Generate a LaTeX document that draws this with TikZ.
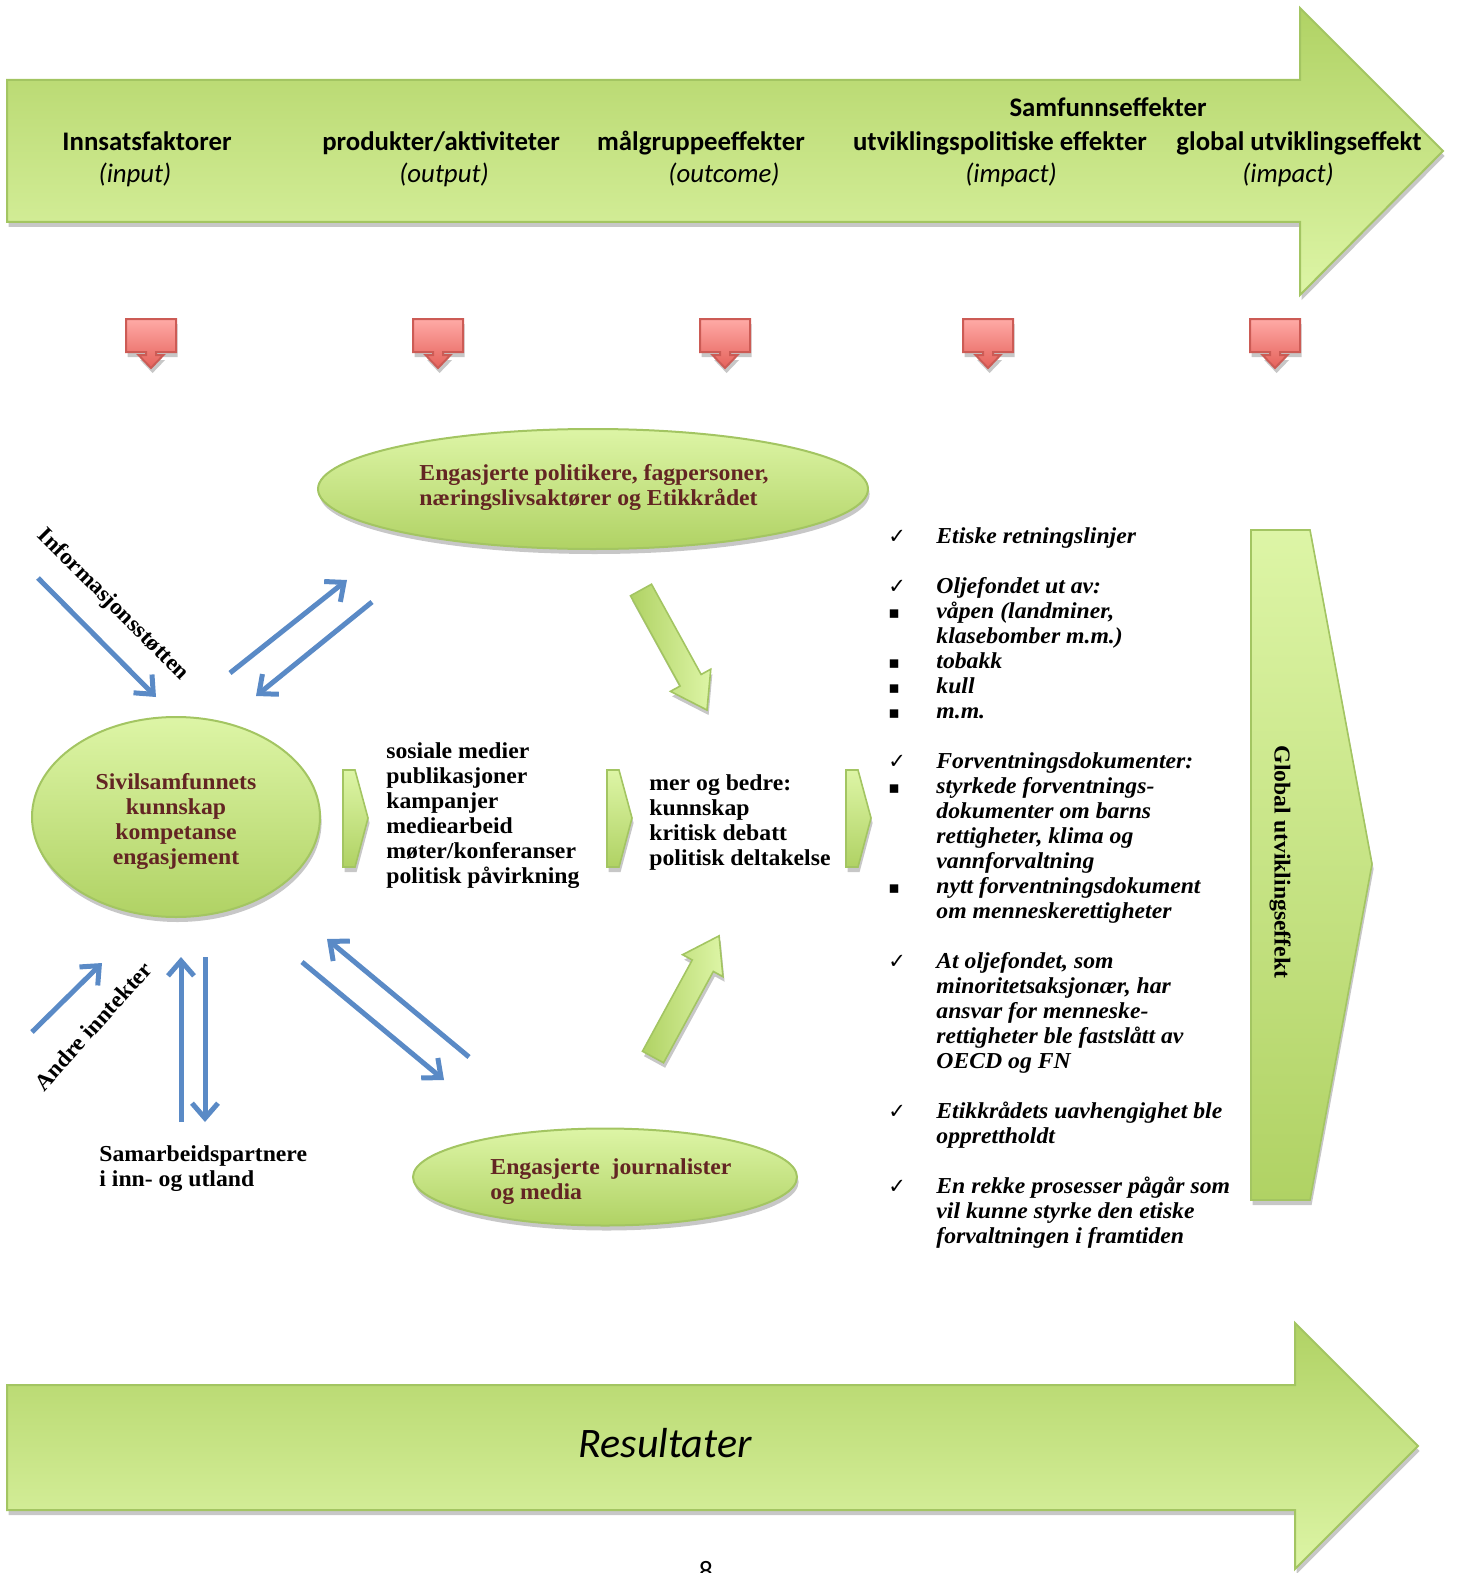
\documentclass[tikz,border=0pt]{standalone}
\usepackage{fontspec}
\setmainfont{Liberation Serif}[FakeStretch=1.04]
\newfontfamily\calfont{Carlito}
\newfontfamily\symfont{DejaVu Sans}
\usetikzlibrary{shapes.geometric,arrows.meta,shadows}
\definecolor{gdark}{HTML}{B0D264}
\definecolor{glight}{HTML}{DDF5A6}
\definecolor{gline}{HTML}{A3C562}
\definecolor{redtxt}{HTML}{632523}
\definecolor{blu}{HTML}{5A8AC6}
\definecolor{rtop}{HTML}{FFAAA6}
\definecolor{rbot}{HTML}{E5625B}
\definecolor{rline}{HTML}{CC5B55}
\newcommand{\bodyfs}{\fontsize{11.4}{12.5}\selectfont}
\newcommand{\chk}{{\normalfont\symfont\fontsize{10.5}{12.5}\selectfont ✓}}
\newcommand{\bul}{{\normalfont\symfont\fontsize{8.5}{12.5}\selectfont ▪}}
\tikzset{
  shad/.style={drop shadow={shadow xshift=0.8pt, shadow yshift=-2.5pt, opacity=0.22, fill=black}},
  bigarrow/.style={draw=gline, line width=1pt, top color=gdark, bottom color=glight, shad},
  ell/.style={ellipse, draw=gline, line width=1pt, top color=glight, bottom color=gdark, shad, inner sep=0pt},
  chev/.style={draw=gline, line width=0.8pt, top color=glight, bottom color=gdark, shad},
  diag/.style={draw=gline, line width=0.8pt, left color=gdark, right color=glight, shad},
  bluarr/.style={draw=blu, line width=2.5pt, -{Straight Barb[length=7.5pt,width=13pt]}},
  redm/.style={draw=rline, line width=1pt, top color=rtop, bottom color=rbot, shad},
  hdr/.style={font=\calfont\bfseries\fontsize{13.4}{15}\selectfont, anchor=base, inner sep=0pt},
  hdri/.style={font=\calfont\itshape\fontsize{13.4}{15}\selectfont, anchor=base, inner sep=0pt},
  body/.style={font=\bodyfs\bfseries, inner sep=0pt},
  redlabel/.style={font=\bodyfs\bfseries, text=redtxt, inner sep=0pt},
  redmarker/.pic={
    \draw[redm] (-25,0) -- (25,0) -- (25,33) -- (5,33) -- (5,36) -- (12.5,36) -- (0,49)
      -- (-12.5,36) -- (-5,36) -- (-5,33) -- (-25,33) -- cycle;
  }
}
\begin{document}
\begin{tikzpicture}[x=0.5pt,y=-0.5pt]
\useasboundingbox (0,0) rectangle (1458,1573);

% top arrow
\draw[bigarrow] (7,80) -- (1300,80) -- (1300,8) -- (1443,151) -- (1300,295) -- (1300,222) -- (7,222) -- cycle;
\node[hdr] (samf) at (1108,117) {Samfunnseffekter};
\node[hdr] (h1) at (147,151) {Innsatsfaktorer};
\node[hdri] (s1) at (135,183) {(input)};
\node[hdr] (h2) at (441,151) {produkter/aktiviteter};
\node[hdri] (s2) at (444,183) {(output)};
\node[hdr] (h3) at (701,151) {målgruppeeffekter};
\node[hdri] (s3) at (724,183) {(outcome)};
\node[hdr] (h4) at (1000,151) {utviklingspolitiske effekter};
\node[hdri] (s4) at (1011,183) {(impact)};
\node[hdr] (h5) at (1299,151) {global utviklingseffekt};
\node[hdri] (s5) at (1288,183) {(impact)};

% red markers
\foreach \mx in {151,438,725,988,1275} { \pic at (\mx,319) {redmarker}; }

% ellipses
\node[ell, minimum width=275pt, minimum height=60pt] (pol) at (593,489) {};
\node[redlabel, align=left] (poltext) at (594,487) {Engasjerte politikere, fagpersoner,\\næringslivsaktører og Etikkrådet};
\node[ell, minimum width=144pt, minimum height=100pt] (civil) at (176,817) {};
\node[redlabel, align=center] (civiltext) at (176,821) {Sivilsamfunnets\\kunnskap\\kompetanse\\engasjement};
\node[ell, minimum width=192pt, minimum height=48.5pt] (media) at (605,1177) {};
\node[redlabel, align=left] (mediatext) at (611,1182) {Engasjerte\ \ journalister\\og media};

% blue arrows
\coordinate (a1s) at (38,578);   \coordinate (a1e) at (156,697);
\coordinate (a2s) at (230,673);  \coordinate (a2e) at (347,580);
\coordinate (a3s) at (372,602);  \coordinate (a3e) at (256,696);
\coordinate (a4s) at (32,1032);  \coordinate (a4e) at (102,963);
\coordinate (a5s) at (181,1122); \coordinate (a5e) at (181,957);
\coordinate (a6s) at (205,957);  \coordinate (a6e) at (205,1122);
\coordinate (a7s) at (302,962);  \coordinate (a7e) at (444,1080);
\coordinate (a8s) at (469,1057); \coordinate (a8e) at (327,939);
\foreach \s/\e in {a1s/a1e,a2s/a2e,a3s/a3e,a4s/a4e,a5s/a5e,a6s/a6e,a7s/a7e,a8s/a8e}
  \draw[bluarr] (\s) -- (\e);

\node[body, rotate=-45] (infolbl) at (113,605) {Informasjonsstøtten};
\node[body, rotate=48] (andrelbl) at (93,1026) {Andre inntekter};
\node[body, anchor=west, align=left] (partners) at (99,1169) {Samarbeidspartnere\\i inn- og utland};

% green diagonal block arrows
\begin{scope}[shift={(641,590)}, rotate=-61.2]
  \draw[diag] (0,-12) -- (103,-12) -- (103,-23) -- (137,0) -- (103,23) -- (103,12) -- (0,12) -- cycle;
\end{scope}
\begin{scope}[shift={(653,1057)}, rotate=61.4]
  \draw[diag] (0,-12) -- (104,-12) -- (104,-23) -- (138,0) -- (104,23) -- (104,12) -- (0,12) -- cycle;
\end{scope}

% small chevrons
\foreach \cx in {0,264,503} {
  \draw[chev] (343+\cx,770) -- (355+\cx,770) -- (368+\cx,818) -- (355+\cx,867) -- (343+\cx,867) -- cycle;
}

% middle texts
\node[body, anchor=west, align=left] (acts) at (386,816) {sosiale medier\\publikasjoner\\kampanjer\\mediearbeid\\møter/konferanser\\politisk påvirkning};
\node[body, anchor=west, align=left] (more) at (649,823) {mer og bedre:\\kunnskap\\kritisk debatt\\politisk deltakelse};

% right list
\node[anchor=north west, inner sep=0pt, font=\bodyfs\bfseries\itshape] (list) at (888,526) {%
\begin{tabular}{@{}p{24pt}@{}l@{}}
\chk & Etiske retningslinjer\\
 & \\
\chk & Oljefondet ut av:\\
\bul & våpen (landminer,\\
 & klasebomber m.m.)\\
\bul & tobakk\\
\bul & kull\\
\bul & m.m.\\
 & \\
\chk & Forventningsdokumenter:\\
\bul & styrkede forventnings-\\
 & dokumenter om barns\\
 & rettigheter, klima og\\
 & vannforvaltning\\
\bul & nytt forventningsdokument\\
 & om menneskerettigheter\\
 & \\
\chk & At oljefondet, som\\
 & minoritetsaksjonær, har\\
 & ansvar for menneske-\\
 & rettigheter ble fastslått av\\
 & OECD og FN\\
 & \\
\chk & Etikkrådets uavhengighet ble\\
 & opprettholdt\\
 & \\
\chk & En rekke prosesser pågår som\\
 & vil kunne styrke den etiske\\
 & forvaltningen i framtiden
\end{tabular}};

% vertical arrow
\draw[chev] (1251,530) -- (1310,530) -- (1372,864) -- (1310,1200) -- (1251,1200) -- cycle;
\node[body, rotate=-90] (globlbl) at (1280,862) {Global utviklingseffekt};

% bottom arrow
\draw[bigarrow] (7,1385) -- (1295,1385) -- (1295,1323) -- (1418,1446) -- (1295,1569) -- (1295,1510) -- (7,1510) -- cycle;
\node[font=\calfont\itshape\fontsize{21}{25}\selectfont, inner sep=0pt] (res) at (665,1443) {Resultater};
\node[font=\calfont\fontsize{14}{16}\selectfont, inner sep=0pt, anchor=base] (pg) at (706,1580) {8};
\end{tikzpicture}
\end{document}
